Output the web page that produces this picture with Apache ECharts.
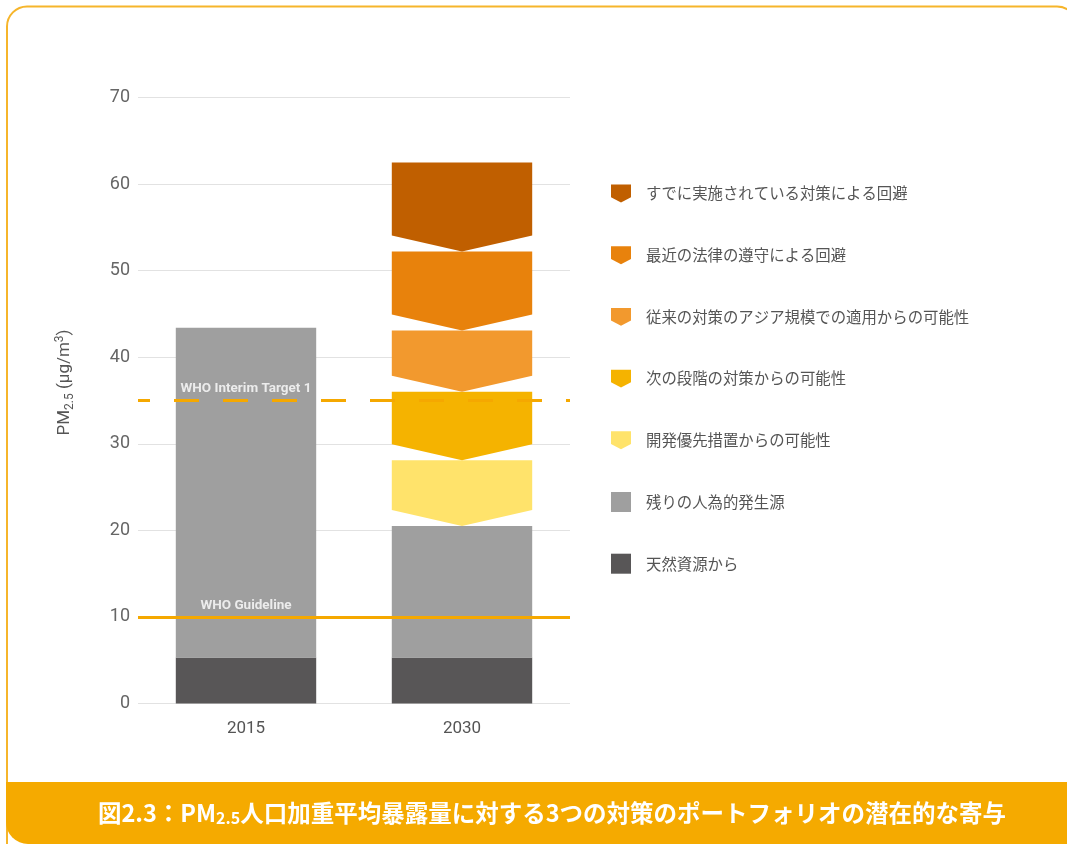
<!DOCTYPE html>
<html>
<head>
<meta charset="utf-8">
<style>
  html, body { margin: 0; padding: 0; background: #ffffff; }
  #chart { width: 1067px; height: 844px; }
</style>
<script src="https://cdn.jsdelivr.net/npm/echarts@6/dist/echarts.min.js"></script>
</head>
<body>
<div id="chart"></div>
<script>
// Categories on the x axis
const years = ['2015', '2030'];

// Contributions to population-weighted PM2.5 exposure (μg/m³), bottom to top
const naturalSources   = [5.3, 5.3];
const remainingAnthro  = [38.1, 15.2];
const devPriority      = [0, 7.6];
const nextStage        = [0, 7.9];
const conventional     = [0, 7.1];
const recentLaws       = [0, 9.1];
const existingPolicies = [0, 10.3];

// WHO reference levels
const whoGuideline = 10;
const whoInterim1 = 35;

// Y axis ticks
const yMin = 0, yMax = 70, yStep = 10;

// Legend / series names
const nameNatural   = '天然資源から';
const nameRemaining = '残りの人為的発生源';
const nameDev       = '開発優先措置からの可能性';
const nameNext      = '次の段階の対策からの可能性';
const nameConv      = '従来の対策のアジア規模での適用からの可能性';
const nameRecent    = '最近の法律の遵守による回避';
const nameExisting  = 'すでに実施されている対策による回避';

const colors = {
  natural: '#585657',
  remaining: '#9f9f9f',
  dev: '#ffe36b',
  next: '#f5b300',
  conv: '#f2992e',
  recent: '#e8820c',
  existing: '#c05f00'
};

const barRatio = 0.65;
const notchDepth = 16;
const chevronPath = 'path://M0,0 L19,0 L19,12 L9.5,17 L0,12 Z';

// Stack the chevron layers on top of the bar layers
const chevronLayers = [
  { name: nameDev, values: devPriority, color: colors.dev },
  { name: nameNext, values: nextStage, color: colors.next },
  { name: nameConv, values: conventional, color: colors.conv },
  { name: nameRecent, values: recentLaws, color: colors.recent },
  { name: nameExisting, values: existingPolicies, color: colors.existing }
];

const running = years.map((_, i) => naturalSources[i] + remainingAnthro[i]);

function chevronItem(params, api) {
  const cat = api.value(0);
  const lo = api.value(1);
  const hi = api.value(2);
  if (!(hi > lo)) return;
  const top = api.coord([cat, hi]);
  const bot = api.coord([cat, lo]);
  const w = api.size([1, 0])[0] * barRatio;
  const x0 = top[0] - w / 2, x1 = top[0] + w / 2;
  return {
    type: 'polygon',
    shape: {
      points: [
        [x0, top[1]], [x1, top[1]],
        [x1, bot[1] - notchDepth], [top[0], bot[1]],
        [x0, bot[1] - notchDepth]
      ]
    },
    style: api.style()
  };
}

const chevronSeries = chevronLayers.map(layer => {
  const data = years.map((_, i) => {
    const lo = running[i];
    const hi = lo + layer.values[i];
    running[i] = hi;
    return [i, lo, hi];
  });
  return {
    name: layer.name,
    type: 'custom',
    renderItem: chevronItem,
    itemStyle: { color: layer.color },
    encode: { x: 0, y: [1, 2] },
    data: data,
    z: 3
  };
});

const baseFont = 'Roboto, "Noto Sans CJK JP", sans-serif';
const cjkFont = '"Noto Sans CJK JP", sans-serif';

const chart = echarts.init(document.getElementById('chart'), null, { renderer: 'canvas' });

chart.setOption({
  animation: false,
  backgroundColor: '#ffffff',
  grid: { left: 138, right: 497, top: 97.5, bottom: 140.5 },
  xAxis: {
    type: 'category',
    data: years,
    axisLine: { show: false },
    axisTick: { show: false },
    axisLabel: { color: '#555555', fontSize: 17, fontFamily: baseFont, margin: 17 }
  },
  yAxis: {
    type: 'value',
    min: yMin, max: yMax, interval: yStep,
    name: 'PM{sub|2.5} (μg/m{sup|3})',
    nameLocation: 'middle',
    nameRotate: 90,
    nameGap: 62,
    nameTextStyle: {
      color: '#555555', fontSize: 17, fontFamily: baseFont, lineHeight: 22,
      padding: [0, 0, 0, 36],
      rich: {
        sub: { fontSize: 12, fontFamily: baseFont, color: '#555555', padding: [9, 0, 0, 0] },
        sup: { fontSize: 12, fontFamily: baseFont, color: '#555555', padding: [0, 0, 10, 0] }
      }
    },
    axisLine: { show: false },
    axisTick: { show: false },
    axisLabel: { color: '#666666', fontSize: 18, fontFamily: baseFont, margin: 8 },
    splitLine: { lineStyle: { color: '#e2e2e2', width: 1 } }
  },
  legend: {
    orient: 'vertical',
    left: 611,
    top: 183.5,
    padding: 0,
    itemWidth: 20,
    itemHeight: 20,
    itemGap: 41.7,
    selectedMode: false,
    textStyle: { color: '#555555', fontSize: 15.4, fontFamily: cjkFont, lineHeight: 20, padding: [0, 0, 0, 10] },
    data: [
      { name: nameExisting, icon: chevronPath },
      { name: nameRecent, icon: chevronPath },
      { name: nameConv, icon: chevronPath },
      { name: nameNext, icon: chevronPath },
      { name: nameDev, icon: chevronPath },
      { name: nameRemaining, icon: 'rect' },
      { name: nameNatural, icon: 'rect' }
    ]
  },
  series: [
    {
      name: nameNatural, type: 'bar', stack: 'total', barWidth: (barRatio * 100) + '%',
      itemStyle: { color: colors.natural }, data: naturalSources, z: 2
    },
    {
      name: nameRemaining, type: 'bar', stack: 'total', barWidth: (barRatio * 100) + '%',
      itemStyle: { color: colors.remaining }, data: remainingAnthro, z: 2
    },
    ...chevronSeries,
    {
      // WHO reference lines and their labels
      name: 'who', type: 'scatter', symbolSize: 0, z: 10,
      data: [
        { value: [years[0], whoInterim1], label: { formatter: 'WHO Interim Target 1' } },
        { value: [years[0], whoGuideline], label: { formatter: 'WHO Guideline' } }
      ],
      label: {
        show: true, position: 'top', distance: 5,
        color: '#ffffff', fontSize: 13.5, fontWeight: 'bold', fontFamily: baseFont
      },
      markLine: {
        silent: true, symbol: 'none', z: 10,
        label: { show: false },
        data: [
          { yAxis: whoGuideline, lineStyle: { color: '#f5a800', width: 3, type: 'solid' } },
          { yAxis: whoInterim1, lineStyle: { color: '#f5a800', width: 3, type: [25, 24], dashOffset: 13 } }
        ]
      }
    }
  ],
  graphic: [
    {
      type: 'rect', z: 0, silent: true,
      shape: { x: 7, y: 6.5, width: 1070, height: 860, r: 20 },
      style: { fill: 'none', stroke: '#f6b52b', lineWidth: 2 }
    },
    {
      type: 'rect', z: 100, silent: true,
      shape: { x: 6, y: 782, width: 1080, height: 62, r: [0, 0, 0, 22] },
      style: { fill: '#f5aa00' }
    },
    {
      type: 'text', z: 101, silent: true,
      left: 98, top: 801,
      style: {
        text: '図2.3：PM{s|2.5}人口加重平均暴露量に対する3つの対策のポートフォリオの潜在的な寄与',
        fill: '#ffffff', fontSize: 23.5, fontWeight: 'bold', fontFamily: cjkFont,
        rich: { s: { fontSize: 16, fontWeight: 'bold', fontFamily: cjkFont, fill: '#ffffff', padding: [10, 0, 0, 0] } }
      }
    }
  ]
});
</script>
</body>
</html>
